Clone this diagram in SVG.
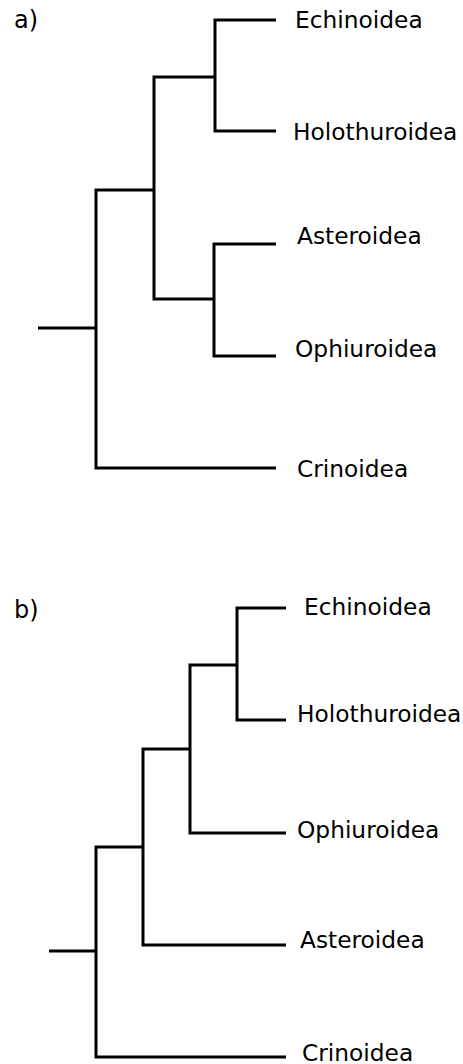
<svg xmlns="http://www.w3.org/2000/svg" width="463" height="1064" viewBox="0 0 463 1064">
  <style>
    .edge { fill: none; stroke: #000; stroke-width: 3; stroke-linecap: butt; stroke-linejoin: miter; }
    .taxon { font-family: "DejaVu Sans", Verdana, sans-serif; font-size: 23.3px; fill: #000; }
    .panel { font-family: "DejaVu Sans", Verdana, sans-serif; font-size: 24px; fill: #000; }
  </style>
  <rect width="463" height="1064" fill="#fff"/>

  <!-- Tree a) -->
  <g id="tree-a-connectors">
    <path class="edge" d="M276,20 H215 V131 H276"/>
    <path class="edge" d="M276,244 H214 V356 H276"/>
    <path class="edge" d="M215,77 H154 V299 H214"/>
    <path class="edge" d="M154,190 H96 V468 H276"/>
    <path class="edge" d="M38,328 H96"/>
  </g>
  <g id="label-a"><text class="panel" x="14" y="28">a)</text></g>
  <g id="a-echinoidea"><text class="taxon" x="295" y="28">Echinoidea</text></g>
  <g id="a-holothuroidea"><text class="taxon" x="293" y="140">Holothuroidea</text></g>
  <g id="a-asteroidea"><text class="taxon" x="297" y="244">Asteroidea</text></g>
  <g id="a-ophiuroidea"><text class="taxon" x="295" y="357">Ophiuroidea</text></g>
  <g id="a-crinoidea"><text class="taxon" x="297" y="477">Crinoidea</text></g>

  <!-- Tree b) -->
  <g id="tree-b-connectors">
    <path class="edge" d="M286,608 H237 V720 H286"/>
    <path class="edge" d="M237,665 H190 V833 H286"/>
    <path class="edge" d="M190,749 H143 V945 H286"/>
    <path class="edge" d="M143,847 H96 V1057 H286"/>
    <path class="edge" d="M49,951 H96"/>
  </g>
  <g id="label-b"><text class="panel" x="14" y="618">b)</text></g>
  <g id="b-echinoidea"><text class="taxon" x="304" y="615">Echinoidea</text></g>
  <g id="b-holothuroidea"><text class="taxon" x="297" y="722">Holothuroidea</text></g>
  <g id="b-ophiuroidea"><text class="taxon" x="297" y="838">Ophiuroidea</text></g>
  <g id="b-asteroidea"><text class="taxon" x="300" y="948">Asteroidea</text></g>
  <g id="b-crinoidea"><text class="taxon" x="302" y="1061">Crinoidea</text></g>
</svg>
